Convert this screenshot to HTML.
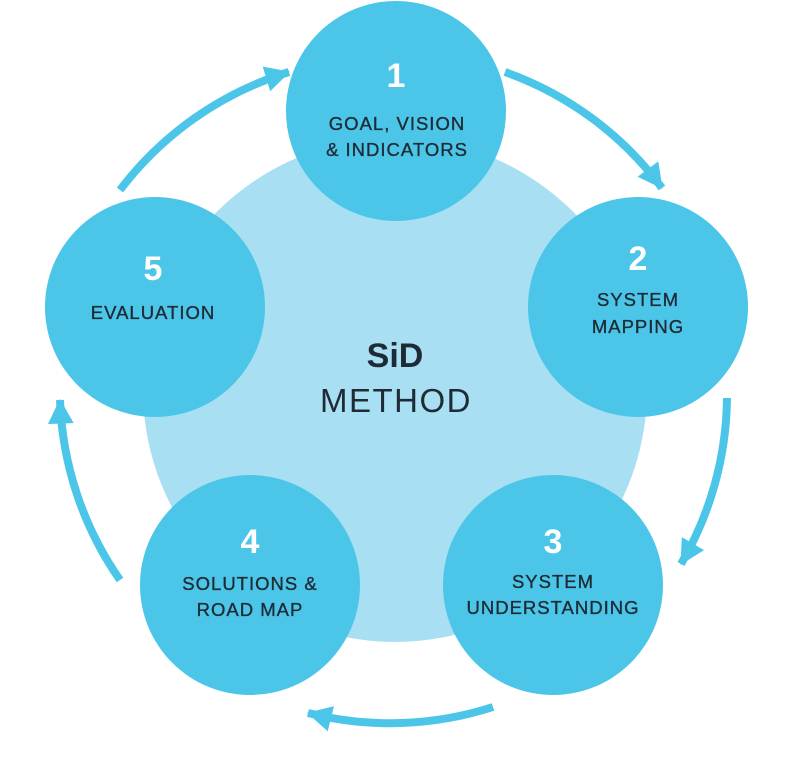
<!DOCTYPE html>
<html><head><meta charset="utf-8"><style>
html,body{margin:0;padding:0;background:#fff;}
svg{display:block;}
text{font-family:"Liberation Sans","DejaVu Sans",sans-serif;fill:#1e2b36;text-anchor:middle;}
.n{font-size:34px;font-weight:bold;fill:#fff;}
.l{font-size:18.5px;letter-spacing:1px;stroke:#1e2b36;stroke-width:0.35px;}
</style></head><body>
<svg width="800" height="769" viewBox="0 0 800 769">
<defs>
<marker id="a" markerUnits="userSpaceOnUse" markerWidth="30" markerHeight="30" viewBox="0 -14 24 28" refX="22" refY="0" orient="auto">
<path d="M0,-12 L23,0 L0,12 z" fill="#4cc6e8"/>
</marker>
</defs>
<circle cx="395" cy="390" r="252" fill="#a8dff2"/>
<g fill="none" stroke="#4cc6e8" stroke-width="8" marker-end="url(#a)">
<path d="M505,72 A335,335 0 0 1 662,188"/>
<path d="M727,398 A335,335 0 0 1 681,564"/>
<path d="M493,707 A335,335 0 0 1 308,713"/>
<path d="M120,580 A335,335 0 0 1 60,400"/>
<path d="M120,190 A335,335 0 0 1 289,72"/>
</g>
<g fill="#4cc6e8">
<circle cx="396" cy="111" r="110"/>
<circle cx="638" cy="307" r="110"/>
<circle cx="553" cy="585" r="110"/>
<circle cx="250" cy="585" r="110"/>
<circle cx="155" cy="307" r="110"/>
</g>
<text class="n" x="396" y="87">1</text>
<text class="l" x="397" y="130">GOAL, VISION</text>
<text class="l" x="397" y="156">&amp; INDICATORS</text>
<text class="n" x="638" y="270">2</text>
<text class="l" x="638" y="306">SYSTEM</text>
<text class="l" x="638" y="333">MAPPING</text>
<text class="n" x="553" y="553">3</text>
<text class="l" x="553" y="588">SYSTEM</text>
<text class="l" x="553" y="614">UNDERSTANDING</text>
<text class="n" x="250" y="553">4</text>
<text class="l" x="250" y="590">SOLUTIONS &amp;</text>
<text class="l" x="250" y="616">ROAD MAP</text>
<text class="n" x="153" y="280">5</text>
<text class="l" x="153" y="319">EVALUATION</text>
<text x="395" y="367" style="font-size:34px;font-weight:bold">SiD</text>
<text x="396" y="412" style="font-size:33px;letter-spacing:1.5px">METHOD</text>
</svg>
</body></html>
